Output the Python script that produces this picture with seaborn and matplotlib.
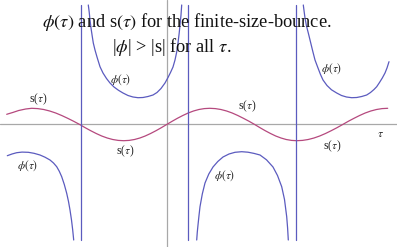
import numpy as np
import pandas as pd
import seaborn as sns
import matplotlib.pyplot as plt

sns.set_style("white")
plt.rcParams["font.family"] = ["Liberation Serif", "DejaVu Serif"]
plt.rcParams["mathtext.fontset"] = "stix"

# s(tau): the bounce radius, oscillating
s_tau = [-16.0, -15.4, -14.8, -14.1, -13.5,
         -12.9, -12.3, -11.7, -11.1, -10.5, -9.9, -9.3, -8.7,
         -8.15, -7.6, -7.05, -6.5, -5.95, -5.4, -4.85, -4.3,
         -3.76, -3.22, -2.68, -2.15, -1.61, -1.07, -0.54, 0.0,
         0.54, 1.07, 1.61, 2.15, 2.68, 3.22, 3.76, 4.3,
         4.86, 5.42, 5.99, 6.55, 7.11, 7.67, 8.24, 8.8,
         9.33, 9.85, 10.38, 10.9, 11.43, 11.95, 12.48, 13.0,
         13.58, 14.15, 14.73, 15.3, 15.88, 16.45, 17.03, 17.6,
         18.16, 18.73, 19.29, 19.85, 20.41, 20.98, 21.54, 22.1]
s_val = [1.02, 1.2, 1.4, 1.55, 1.62,
         1.59, 1.5, 1.35, 1.15, 0.9, 0.62, 0.32, 0.0,
         -0.32, -0.62, -0.9, -1.15, -1.35, -1.5, -1.59, -1.62,
         -1.59, -1.5, -1.35, -1.15, -0.9, -0.62, -0.32, 0.0,
         0.32, 0.62, 0.9, 1.15, 1.35, 1.5, 1.59, 1.62,
         1.59, 1.5, 1.35, 1.15, 0.9, 0.62, 0.32, 0.0,
         -0.32, -0.62, -0.9, -1.15, -1.35, -1.5, -1.59, -1.62,
         -1.59, -1.5, -1.35, -1.15, -0.9, -0.62, -0.32, 0.0,
         0.32, 0.62, 0.9, 1.15, 1.35, 1.5, 1.59, 1.62]

# phi(tau): four branches between the poles
phi1_tau = [-15.94, -15.47, -15.0, -14.47, -13.84, -13.27, -12.67, -12.17, -11.67, -11.32,
            -11.0, -10.74, -10.5, -10.24, -10.0, -9.82, -9.67, -9.52, -9.4, -9.3]
phi1_val = [-3.12, -2.95, -2.82, -2.76, -2.78, -2.88, -3.05, -3.27, -3.55, -3.85,
            -4.22, -4.68, -5.22, -6.0, -6.88, -7.7, -8.55, -9.55, -10.55, -11.55]

phi2_tau = [-7.84, -7.75, -7.67, -7.57, -7.45, -7.34, -7.17, -6.97, -6.67, -6.37,
            -6.02, -5.67, -5.27, -4.82, -4.37, -3.87, -3.37, -2.87, -2.37, -1.87,
            -1.37, -0.97, -0.57, -0.17, 0.13, 0.38, 0.63, 0.83, 1.0, 1.13,
            1.25, 1.33, 1.43, 1.5]
phi2_val = [11.95, 11.25, 10.45, 9.65, 8.85, 8.15, 7.45, 6.75, 5.78, 5.15,
            4.6, 4.15, 3.75, 3.42, 3.15, 2.9, 2.75, 2.68, 2.7, 2.8,
            2.95, 3.2, 3.6, 4.15, 4.7, 5.2, 5.75, 6.45, 7.25, 8.15,
            9.15, 9.95, 10.95, 11.95]

phi3_tau = [3.0, 3.06, 3.13, 3.23, 3.33, 3.56, 3.83, 4.21, 4.63, 5.11,
            5.63, 6.23, 6.83, 7.5, 8.13, 8.73, 9.33, 9.98, 10.63, 11.08,
            11.5, 11.78, 12.0, 12.09, 12.16]
phi3_val = [-11.55, -10.75, -10.05, -9.1, -8.22, -6.95, -5.85, -4.95, -4.25, -3.7,
            -3.25, -2.95, -2.78, -2.72, -2.77, -2.89, -3.05, -3.53, -4.25, -5.1,
            -6.22, -7.5, -9.22, -10.35, -11.55]

phi4_tau = [13.66, 13.75, 13.83, 13.98, 14.16, 14.38, 14.6, 14.83, 15.13, 15.38,
            15.63, 16.03, 16.48, 17.0, 17.48, 17.98, 18.5, 19.0, 19.5, 20.0,
            20.38, 20.73, 21.0, 21.28, 21.56, 21.83, 22.03, 22.23]
phi4_val = [11.95, 11.25, 10.65, 9.85, 9.15, 8.25, 7.35, 6.45, 5.65, 5.0,
            4.45, 3.9, 3.47, 3.15, 2.9, 2.75, 2.68, 2.7, 2.8, 2.95,
            3.2, 3.5, 3.78, 4.2, 4.65, 5.15, 5.65, 6.28]

poles = [-8.57, 2.16, 12.93]
y_range = [-11.55, 11.95]

# curve labels
lab_text = ["s($\\tau$)", "$\\phi(\\tau)$", "$\\phi(\\tau)$", "s($\\tau$)",
            "s($\\tau$)", "$\\phi(\\tau)$", "$\\phi(\\tau)$", "s($\\tau$)"]
lab_x = [-12.87, -4.57, 16.53, 8.03, -4.17, -13.87, 5.83, 16.53]
lab_y = [2.55, 4.45, 5.55, 1.85, -2.65, -4.15, -5.15, -2.15]

blue = "#5b5bbf"
pink = "#b5497e"
grey = "#a8a8a8"

fig = plt.figure(figsize=(3.97, 2.47), dpi=100)
ax = fig.add_axes([0, 0, 1, 1])

ax.axhline(0, color=grey, lw=0.9, zorder=0)
ax.axvline(0, color=grey, lw=0.9, zorder=0)

sns.lineplot(x=s_tau, y=s_val, color=pink, lw=0.9, sort=False, estimator=None, ax=ax)
for bt, bv in [(phi1_tau, phi1_val), (phi2_tau, phi2_val),
               (phi3_tau, phi3_val), (phi4_tau, phi4_val)]:
    sns.lineplot(x=bt, y=bv, color=blue, lw=0.9, sort=False, estimator=None, ax=ax)
for p in poles:
    sns.lineplot(x=[p, p], y=y_range, color=blue, lw=0.9, sort=False, estimator=None, ax=ax)

for t, x, y in zip(lab_text, lab_x, lab_y):
    ax.text(x, y, t, fontsize=8.3, ha="center", va="center", color="#222222")
ax.text(21.43, -0.95, "$\\tau$", fontsize=8.5, ha="center", va="center", color="#222222")

ax.text(2.03, 10.25, "$\\phi(\\tau)$ and s$(\\tau)$ for the finite-size-bounce.",
        fontsize=13.2, ha="center", va="center", color="#111111")
ax.text(0.53, 7.75, "|$\\phi$| > |s| for all $\\tau$.",
        fontsize=13.2, ha="center", va="center", color="#111111")

ax.set_xlim(-16.67, 23.03)
ax.set_ylim(-12.25, 12.45)
ax.set_xticks([])
ax.set_yticks([])
for sp in ax.spines.values():
    sp.set_visible(False)

fig.savefig("out.png", dpi=100)
